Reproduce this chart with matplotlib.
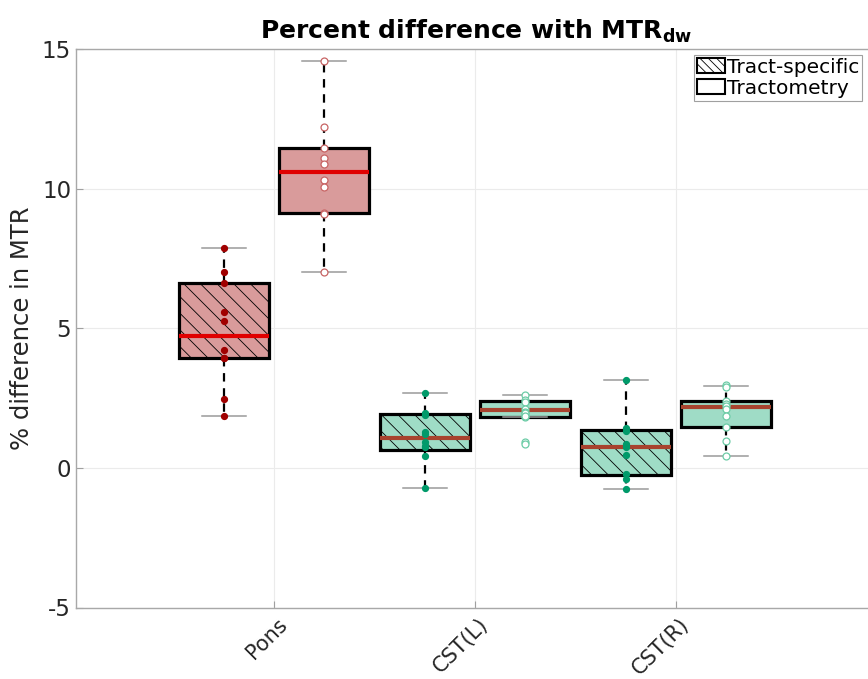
import matplotlib
matplotlib.use('Agg')
import matplotlib.pyplot as plt
from matplotlib.patches import Patch
from matplotlib.transforms import ScaledTranslation
import numpy as np

plt.rcParams['font.family'] = ['DejaVu Sans']
plt.rcParams['hatch.linewidth'] = 0.6

# regions on the x axis
regions = ['Pons', 'CST(L)', 'CST(R)']

# individual subject values, per region (tract-specific / tractometry)
ts_points = [
    [7.87, 7.00, 6.62, 5.59, 5.27, 4.22, 3.94, 3.92, 2.47, 1.87],
    [2.67, 1.98, 1.90, 1.30, 1.22, 0.91, 0.80, 0.74, 0.44, -0.72],
    [3.15, 1.43, 1.33, 0.86, 0.80, 0.74, 0.46, -0.22, -0.40, -0.75],
]
tr_points = [
    [14.57, 12.20, 11.44, 11.09, 10.87, 10.30, 10.07, 9.14, 9.08, 7.03],
    [2.62, 2.43, 2.36, 2.11, 2.01, 1.95, 1.81, 1.87, 0.93, 0.87],
    [2.95, 2.90, 2.38, 2.28, 2.20, 2.11, 1.87, 1.48, 0.95, 0.41],
]

# box statistics
ts_q1 = [3.92, 0.65, -0.25]
ts_med = [4.73, 1.08, 0.76]
ts_q3 = [6.62, 1.92, 1.37]
ts_lo = [1.87, -0.72, -0.75]
ts_hi = [7.87, 2.67, 3.15]

tr_q1 = [9.14, 1.81, 1.45]
tr_med = [10.58, 2.08, 2.19]
tr_q3 = [11.45, 2.41, 2.41]
tr_lo = [7.03, 1.81, 0.41]
tr_hi = [14.57, 2.62, 2.92]

fill_col = ['#d99b9b', '#9fdcc6', '#9fdcc6']
med_col = ['#e00000', '#a8432e', '#a8432e']
dot_col = ['#a00000', '#009a6a', '#009a6a']
ring_col = ['#c86464', '#6ccca6', '#6ccca6']

fig = plt.figure(figsize=(8.68, 6.79), dpi=100)
ax = fig.add_axes([76 / 868, 1 - 607.5 / 679, (877 - 76) / 868, (607.5 - 49) / 679])


def draw(pos, q1, med, q3, lo, hi, pts, hatch, i, hollow):
    st = [dict(q1=q1, med=med, q3=q3, whislo=lo, whishi=hi, fliers=[])]
    b = ax.bxp(st, positions=[pos], widths=0.45, capwidths=[0.22],
               patch_artist=True, showfliers=False,
               boxprops=dict(facecolor=fill_col[i], edgecolor='black', linewidth=2.3, hatch=hatch),
               medianprops=dict(color=med_col[i], linewidth=3),
               whiskerprops=dict(color='black', linewidth=1.6, linestyle=(0, (3.8, 3))),
               capprops=dict(color='#9a9a9a', linewidth=1.1))
    for w in b['whiskers']:
        w.set_zorder(1)
    y = np.array(pts)
    x = np.full(len(y), pos)
    if hollow:
        ax.plot(x, y, 'o', ms=5.0, mfc='white', mec=ring_col[i], mew=0.9, zorder=5)
    else:
        ax.plot(x, y, 'o', ms=4.2, color=dot_col[i], zorder=5)


for i in range(len(regions)):
    draw(i + 1 - 0.25, ts_q1[i], ts_med[i], ts_q3[i], ts_lo[i], ts_hi[i], ts_points[i], '\\\\', i, False)
    draw(i + 1 + 0.25, tr_q1[i], tr_med[i], tr_q3[i], tr_lo[i], tr_hi[i], tr_points[i], None, i, True)

ax.set_xlim(0.015, 4.0)
ax.set_ylim(-5, 15)
ax.set_xticks([1, 2, 3])
ax.set_xticklabels([])
# region names, rotated, placed just under the ticks
off = ax.get_xaxis_transform() + ScaledTranslation(0.10, -0.135, fig.dpi_scale_trans)
for i, name in enumerate(regions):
    ax.text(i + 1, 0, name, transform=off, rotation=45, ha='right', va='center',
            rotation_mode='anchor', fontsize=15, color='#262626')
ax.set_yticks([-5, 0, 5, 10, 15])
ax.set_yticklabels(['-5', '0', '5', '10', '15'], fontsize=16.5, color='#262626')
ax.tick_params(direction='in', length=5, color='#a0a0a0')
ax.grid(True, color='#ebebeb', linewidth=0.8)
ax.set_axisbelow(True)
for s in ax.spines.values():
    s.set_color('#a8a8a8')
    s.set_linewidth(1.0)

ax.set_ylabel('% difference in MTR', fontsize=17.5, color='#262626', labelpad=6)
ax.set_title(r'Percent difference with MTR$_\mathbf{dw}$', fontsize=18, fontweight='bold', pad=7)

handles = [Patch(facecolor='white', edgecolor='black', linewidth=1.5, hatch='\\\\\\\\', label='Tract-specific'),
           Patch(facecolor='white', edgecolor='black', linewidth=1.5, label='Tractometry')]
leg = ax.legend(handles=handles, loc='upper right', bbox_to_anchor=((866 - 76) / (877 - 76), 0.997),
                fontsize=14.5, handlelength=1.35, handleheight=0.8, handletextpad=0.1,
                borderpad=0.15, labelspacing=0.1, borderaxespad=0.2, fancybox=False, framealpha=1)
leg.get_frame().set_edgecolor('#a0a0a0')
leg.get_frame().set_linewidth(0.8)

fig.savefig('out.png', dpi=100)
